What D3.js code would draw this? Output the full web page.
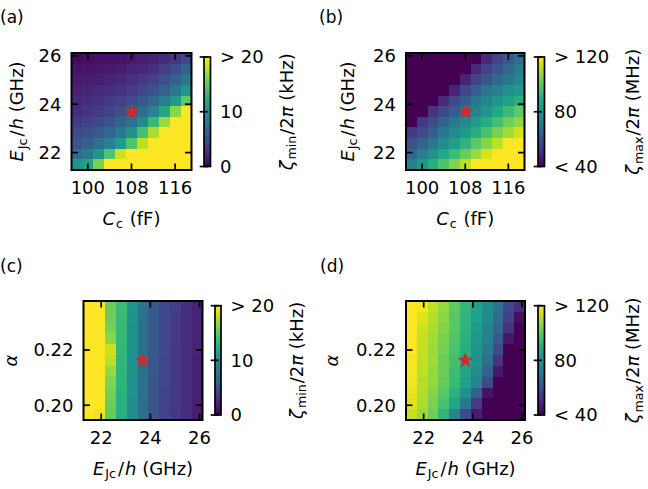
<!DOCTYPE html>
<html><head><meta charset="utf-8">
<script src="https://cdn.jsdelivr.net/npm/d3@7"></script>
<style>
body{margin:0;background:#fff}
svg{display:block}
text{font-family:"DejaVu Sans",sans-serif;fill:#000}
</style>
</head><body>
<svg id="chart" width="648" height="489"></svg>
<script>
// ---------------- data ----------------
const Cc = [98,100,102,104,106,108,110,112,114,116,118];              // fF
const EJc = [21.5,21.94,22.38,22.82,23.26,23.7,24.14,24.58,25.02,25.46,25.9]; // GHz
const alphaVals = [0.1966,0.2005,0.2044,0.2084,0.2123,0.2162,0.2201,0.2241,0.2280,0.2319,0.2358];

// rows listed from top (largest y value) to bottom; columns left to right
const zetaMinCE = [ // kHz, x = Cc, y = EJc
  [0.6,0.7,0.8,0.9,1.0,1.2,1.5,1.9,2.4,3.2,4.4],
  [1.0,1.1,1.2,1.4,1.6,1.9,2.3,2.8,3.6,4.6,6.2],
  [1.4,1.5,1.7,2.0,2.3,2.7,3.2,3.9,4.9,6.2,8.0],
  [1.8,2.0,2.3,2.6,3.0,3.5,4.2,5.1,6.3,8.0,10.5],
  [2.2,2.5,2.9,3.3,3.9,4.6,5.5,6.7,8.5,11.0,15.0],
  [2.6,3.0,3.5,4.1,4.8,5.8,7.0,9.0,12.0,16.5,25],
  [3.4,3.8,4.4,5.2,6.2,7.5,9.5,13.5,17.0,25,25],
  [4.4,4.9,5.6,6.6,8.0,10.0,14.0,17.5,25,25,25],
  [5.2,6.0,7.2,8.8,11.0,14.5,18.0,25,25,25,25],
  [7.0,8.2,10.5,14.5,18.5,25,25,25,25,25,25],
  [10.4,11.5,16.0,25,25,25,25,25,25,25,25]
];
const zetaMaxCE = [ // MHz, x = Cc, y = EJc
  [32,32,32,32,33,34,36,49.6,56,62.4,68],
  [32,32,32,33,34,36,49.6,56,61,67,72.8],
  [32,32,33,34,36,48,56,60.8,67,72,76.8],
  [32,33,34,36,48,57.6,63.2,70.4,74.4,80,84],
  [33,34,36,49.6,57,63,72,76,81.6,85.6,90.4],
  [34,36,52,57.6,63.2,71,76,81.6,88,94.4,100],
  [36,52.8,58.4,64.8,72,77.6,84,89.6,96,102.4,106.4],
  [53.6,58.4,63.2,72,77.6,84,90.4,96.8,104,108.8,114.4],
  [60,64.8,72,79.2,84.8,92,100,105.6,112,125,125],
  [66.4,73.6,80.8,88,94.4,101.6,108,115,125,125,125],
  [74.4,82.4,90.4,97.6,104.8,112,125,125,125,125,125]
];
const zetaMinEA = [ // kHz, x = EJc, y = alpha
  [25,25,15.5,13.6,10.4,7.6,5.6,4.4,3.6,2.8,2.0],
  [25,25,15.5,13.5,10.3,7.5,5.6,4.4,3.5,2.7,1.9],
  [25,25,15.8,13.4,10.2,7.5,5.5,4.3,3.5,2.7,1.9],
  [25,25,16.5,13.3,10.2,7.4,5.5,4.3,3.5,2.7,1.9],
  [25,25,18.5,13.2,10.1,7.4,5.5,4.3,3.4,2.6,1.9],
  [25,25,18.0,13.1,10.0,7.3,5.4,4.2,3.4,2.6,1.8],
  [25,25,16.8,13.0,10.0,7.3,5.4,4.2,3.4,2.6,1.8],
  [25,25,16.2,12.9,9.9,7.2,5.3,4.2,3.3,2.6,1.8],
  [25,25,15.8,12.8,9.9,7.2,5.3,4.1,3.3,2.5,1.8],
  [25,25,15.5,12.7,9.8,7.1,5.2,4.1,3.3,2.5,1.7],
  [25,19.5,15.2,12.6,9.8,7.1,5.2,4.1,3.2,2.5,1.7]
];
const zetaMaxEA = [ // MHz, x = EJc, y = alpha
  [122,119,112,107,100,93,86,79,70,58,50],
  [121,116,111,106,99,92,85,78,68,55,43],
  [120,114,110,105,99,92,84,76,66,52,37],
  [120,113,109,104,98,91,83,75,63,45,34],
  [120,113,108,103,97,90,82,72,58,38,33],
  [119,112,108,102,96,88,80,69,52,35,32],
  [119,112,107,102,95,87,78,65,45,34,32],
  [118,111,107,101,94,86,75,58,38,33,32],
  [117,111,105,99,91,80,64,44,34,32,32],
  [116,110,104,97,87,72,54,37,33,32,32],
  [113,108,102,92,76,58,46,34,32,32,32]
];
const starCE = [108.1, 23.68];
const starEA = [23.69, 0.2162];

const ticksC = [100,108,116];
const ticksE = [22,24,26];
const ticksA = [0.20,0.22];
const cbarMinTicks = [0,10,20], cbarMinLabels = ["0","10","> 20"];
const cbarMaxTicks = [40,80,120], cbarMaxLabels = ["< 40","80","> 120"];
const panelLabels = ["(a)","(b)","(c)","(d)"];

// ---------------- drawing ----------------
const svg = d3.select("#chart");
const FS = 18;

// gradient for colourbar
const defs = svg.append("defs");
const grad = defs.append("linearGradient").attr("id","vir").attr("x1",0).attr("y1",1).attr("x2",0).attr("y2",0);
d3.range(0,1.0001,0.05).forEach(t=>grad.append("stop").attr("offset",t).attr("stop-color",d3.interpolateViridis(t)));

// math-ish label builder: parts = [[text, style, dx]] style: "i" italic, "s" subscript
function mathText(g, parts){
  const t = g.append("text").style("font-size",FS+"px");
  let sub = false;
  parts.forEach(([s,st,dx])=>{
    const ts = t.append("tspan").text(s);
    if(st.includes("i")) ts.style("font-style","italic");
    if(st.includes("s")){
      ts.style("font-size",(FS*0.7)+"px");
      if(!sub){ ts.attr("dy",3.5); sub=true; }
    } else if(sub){ ts.attr("dy",-3.5); sub=false; }
    if(dx) ts.attr("dx",dx);
  });
  return t;
}
const lblE = [["E","i"],["Jc","s",1],["/","",2],["h","i",1],[" (GHz)",""]];
const lblC = [["C","i"],["c","s",1],[" (fF)","",1]];
const lblA = [["α","i"]];
const lblZmin = [["ζ","i"],["min","s",1],["/2","",1],["π","i"],[" (kHz)",""]];
const lblZmax = [["ζ","i"],["max","s",1],["/2","",1],["π","i"],[" (MHz)",""]];

function panel(cfg){
  const g = svg.append("g");
  const xs = cfg.xVals, ys = cfg.yVals;
  const dx = xs[1]-xs[0], dy = ys[1]-ys[0];
  const x = d3.scaleLinear().domain([xs[0]-dx/2, xs[xs.length-1]+dx/2]).range([cfg.box[0],cfg.box[1]]);
  const y = d3.scaleLinear().domain([ys[0]-dy/2, ys[ys.length-1]+dy/2]).range([cfg.box[3],cfg.box[2]]);
  const c = d3.scaleSequential(d3.interpolateViridis).domain(cfg.cdom).clamp(true);
  const n = ys.length;
  const cells = [];
  cfg.data.forEach((row,i)=>row.forEach((v,j)=>cells.push({xv:xs[j], yv:ys[n-1-i], v})));
  g.append("g").selectAll("rect").data(cells).join("rect")
    .attr("x",d=>x(d.xv-dx/2)).attr("width",d=>x(d.xv+dx/2)-x(d.xv-dx/2)+0.3)
    .attr("y",d=>y(d.yv+dy/2)).attr("height",d=>y(d.yv-dy/2)-y(d.yv+dy/2)+0.3)
    .attr("fill",d=>c(d.v)).attr("shape-rendering","crispEdges");
  // star
  g.append("path").attr("d",d3.symbol(d3.symbolStar,58)())
    .attr("transform",`translate(${x(cfg.star[0])},${y(cfg.star[1])})`)
    .attr("fill","#d62728").attr("stroke","#d62728").attr("stroke-width",1).attr("stroke-linejoin","round");
  // ticks (inward, all sides)
  const TL=6.5, tw=1.7;
  const tk = g.append("g").attr("stroke","#000").attr("stroke-width",tw);
  cfg.xt.forEach(v=>{
    tk.append("line").attr("x1",x(v)).attr("x2",x(v)).attr("y1",cfg.box[3]).attr("y2",cfg.box[3]-TL);
    tk.append("line").attr("x1",x(v)).attr("x2",x(v)).attr("y1",cfg.box[2]).attr("y2",cfg.box[2]+TL);
  });
  cfg.yt.forEach(v=>{
    tk.append("line").attr("y1",y(v)).attr("y2",y(v)).attr("x1",cfg.box[0]).attr("x2",cfg.box[0]+TL);
    tk.append("line").attr("y1",y(v)).attr("y2",y(v)).attr("x1",cfg.box[1]).attr("x2",cfg.box[1]-TL);
  });
  g.append("rect").attr("x",cfg.box[0]).attr("y",cfg.box[2])
    .attr("width",cfg.box[1]-cfg.box[0]).attr("height",cfg.box[3]-cfg.box[2])
    .attr("fill","none").attr("stroke","#000").attr("stroke-width",2);
  // tick labels
  cfg.xt.forEach(v=>g.append("text").attr("x",x(v)).attr("y",cfg.box[3]+24)
    .attr("text-anchor","middle").style("font-size",FS+"px").text(cfg.xfmt(v)));
  cfg.yt.forEach(v=>g.append("text").attr("x",cfg.box[0]-10).attr("y",y(v)).attr("dy","0.36em")
    .attr("text-anchor","end").style("font-size",FS+"px").text(cfg.yfmt(v)));
  // axis labels
  mathText(g,cfg.xlab).attr("x",(cfg.box[0]+cfg.box[1])/2).attr("y",cfg.box[3]+54.5).attr("text-anchor","middle");
  mathText(g,cfg.ylab).attr("text-anchor","middle")
    .attr("transform",`translate(${cfg.ylabX},${(cfg.box[2]+cfg.box[3])/2}) rotate(-90)`);
  // colourbar
  const cb = cfg.cb;
  const cy = d3.scaleLinear().domain(cfg.cdom).range([cb[3],cb[2]]);
  g.append("rect").attr("x",cb[0]).attr("y",cb[2]).attr("width",cb[1]-cb[0]).attr("height",cb[3]-cb[2])
    .attr("fill","url(#vir)").attr("stroke","#000").attr("stroke-width",1.7);
  cfg.ct.forEach((v,i)=>{
    g.append("line").attr("x1",cb[0]-4.3).attr("x2",cb[0]+3.8).attr("y1",cy(v)).attr("y2",cy(v))
      .attr("stroke","#000").attr("stroke-width",1.7);
    g.append("text").attr("x",cb[1]+9.5).attr("y",cy(v)).attr("dy","0.36em")
      .style("font-size",FS+"px").text(cfg.cl[i]);
  });
  mathText(g,cfg.clab).attr("text-anchor","middle")
    .attr("transform",`translate(${cfg.clabX},${(cb[2]+cb[3])/2}) rotate(-90)`);
  // panel label
  g.append("text").attr("x",cfg.pl[0]).attr("y",cfg.pl[1]).style("font-size","17px").text(cfg.plText);
}

const f0 = d3.format("d"), f2 = d3.format(".2f");
panel({xVals:Cc,yVals:EJc,data:zetaMinCE,cdom:[0,20],star:starCE,
  box:[71.5,191.5,53,170],cb:[204,210.5,57,166.5],xt:ticksC,yt:ticksE,xfmt:f0,yfmt:f0,
  xlab:lblC,ylab:lblE,ylabX:23,clab:lblZmin,clabX:292.5,ct:cbarMinTicks,cl:cbarMinLabels,
  pl:[0,23],plText:panelLabels[0]});
panel({xVals:Cc,yVals:EJc,data:zetaMaxCE,cdom:[40,120],star:starCE,
  box:[406,524.5,53,170],cb:[538,544.5,57,166.5],xt:ticksC,yt:ticksE,xfmt:f0,yfmt:f0,
  xlab:lblC,ylab:lblE,ylabX:353.5,clab:lblZmax,clabX:639,ct:cbarMaxTicks,cl:cbarMaxLabels,
  pl:[319,23],plText:panelLabels[1]});
panel({xVals:EJc,yVals:alphaVals,data:zetaMinEA,cdom:[0,20],star:starEA,
  box:[83.5,202.5,301,420],cb:[215,221,305.7,415],xt:ticksE,yt:ticksA,xfmt:f0,yfmt:f2,
  xlab:lblE,ylab:lblA,ylabX:16.5,clab:lblZmin,clabX:302.5,ct:cbarMinTicks,cl:cbarMinLabels,
  pl:[0,272],plText:panelLabels[2]});
panel({xVals:EJc,yVals:alphaVals,data:zetaMaxEA,cdom:[40,120],star:starEA,
  box:[406,525,301,420],cb:[538,544.5,305.7,415],xt:ticksE,yt:ticksA,xfmt:f0,yfmt:f2,
  xlab:lblE,ylab:lblA,ylabX:338,clab:lblZmax,clabX:639,ct:cbarMaxTicks,cl:cbarMaxLabels,
  pl:[320,272],plText:panelLabels[3]});
</script>
</body></html>
